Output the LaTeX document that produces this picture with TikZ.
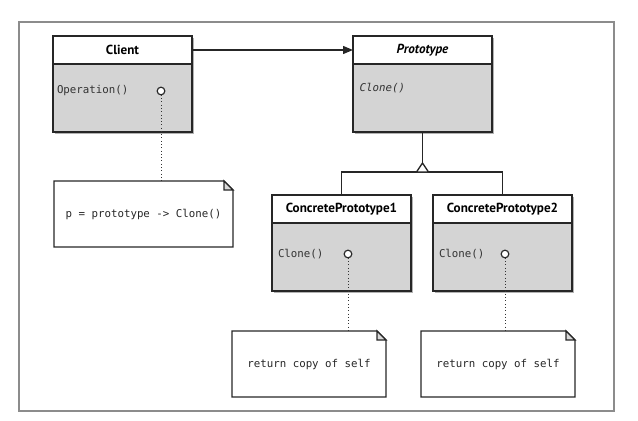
\documentclass[tikz,border=0pt]{standalone}
\usepackage{fontspec}
\setsansfont{PT Sans}
\setmonofont{DejaVu Sans Mono}
\usepackage{tikz}
\usetikzlibrary{arrows.meta,positioning,shadows}
\newcommand{\notefold}[1]{%
  \draw[noteline] (#1.north west) -- ([xshift=-0.27cm]#1.north east)
    -- ([yshift=-0.27cm]#1.north east) -- (#1.south east)
    -- (#1.south west) -- cycle;
  \draw[noteline,fill=black!15] ([xshift=-0.27cm]#1.north east)
    |- ([yshift=-0.27cm]#1.north east) -- cycle;}

\begin{document}
\begin{tikzpicture}[
  x=0.03cm, y=-0.03cm,
  every node/.style={inner sep=0pt, outer sep=0pt},
  shade/.style={drop shadow={shadow xshift=0.06cm, shadow yshift=-0.06cm,
                opacity=0.3, fill=black}},
  classhead/.style={draw=black!85, line width=1.2pt, fill=white, shade,
                    minimum width=4.17cm, minimum height=0.84cm,
                    font=\sffamily\bfseries\fontsize{11.2}{13}\selectfont},
  classbody/.style={draw=black!85, line width=1.2pt, fill=black!17, shade,
                    minimum width=4.17cm, minimum height=2.04cm},
  method/.style={anchor=west, font=\ttfamily\fontsize{9.2}{11}\selectfont,
                 text=black!80},
  port/.style={circle, draw=black!85, line width=1pt, fill=white,
               minimum size=0.23cm},
  note/.style={font=\ttfamily\fontsize{9.2}{11}\selectfont, text=black!85,
               minimum height=1.98cm},
  noteline/.style={draw=black!85, line width=1.1pt},
  tie/.style={dotted, line width=0.8pt, black!80},
  wire/.style={line width=1.1pt, black!85},
]
  \useasboundingbox (0,0) rectangle (638,421);
  \draw[black!45, line width=0.9pt] (19,22) rectangle (614,411);

  % classes
  \node[classhead, anchor=north west] (clienth) at (53,36) {Client};
  \node[classbody, below=0pt of clienth] (clientb) {};
  \node[classhead, anchor=north west] (protoh) at (353,36) {\itshape Prototype};
  \node[classbody, below=0pt of protoh] (protob) {};
  \node[classhead, anchor=north west] (cp1h) at (272,195) {ConcretePrototype1};
  \node[classbody, below=0pt of cp1h] (cp1b) {};
  \node[classhead, anchor=north west] (cp2h) at (433,195) {ConcretePrototype2};
  \node[classbody, below=0pt of cp2h] (cp2b) {};

  % operations
  \node[method] (clop) at ([xshift=0.12cm,yshift=-0.81cm]clientb.north west) {Operation()};
  \node[method] (protoop) at ([xshift=0.2cm,yshift=-0.72cm]protob.north west) {\itshape Clone()};
  \node[method] (cp1op) at ([xshift=0.18cm,yshift=-0.93cm]cp1b.north west) {Clone()};
  \node[method] (cp2op) at ([xshift=0.18cm,yshift=-0.93cm]cp2b.north west) {Clone()};
  \node[port] (clport) at (161,91) {};
  \node[port] (cp1port) at (348,254) {};
  \node[port] (cp2port) at (505,254) {};

  % notes
  \node[note, anchor=north west, minimum width=5.37cm] (clnote) at (54,181)
    {p = prototype -> Clone()};
  \node[note, anchor=north west, minimum width=4.62cm] (cp1note) at (232,331)
    {return copy of self};
  \node[note, anchor=north west, minimum width=4.62cm] (cp2note) at (421,331)
    {return copy of self};
  \notefold{clnote}
  \notefold{cp1note}
  \notefold{cp2note}

  \draw[tie] (clport) -- (clport |- clnote.north);
  \draw[tie] (cp1port) -- (cp1port |- cp1note.north);
  \draw[tie] (cp2port) -- (cp2port |- cp2note.north);

  % client uses prototype
  \draw[wire, -{Triangle[length=0.3cm, width=0.24cm]}] (clienth) -- (protoh);

  % inheritance
  \coordinate (bus) at ([yshift=-1.2cm]protob.south);
  \coordinate (tip) at ([yshift=0.27cm]bus);
  \draw[wire] (cp1h.north) |- (bus) -| (cp2h.north);
  \draw[wire] (tip) -- (protob.south);
  \draw[wire, fill=white] ([xshift=-0.18cm]bus) -- (tip)
    -- ([xshift=0.18cm]bus) -- cycle;
\end{tikzpicture}
\end{document}
